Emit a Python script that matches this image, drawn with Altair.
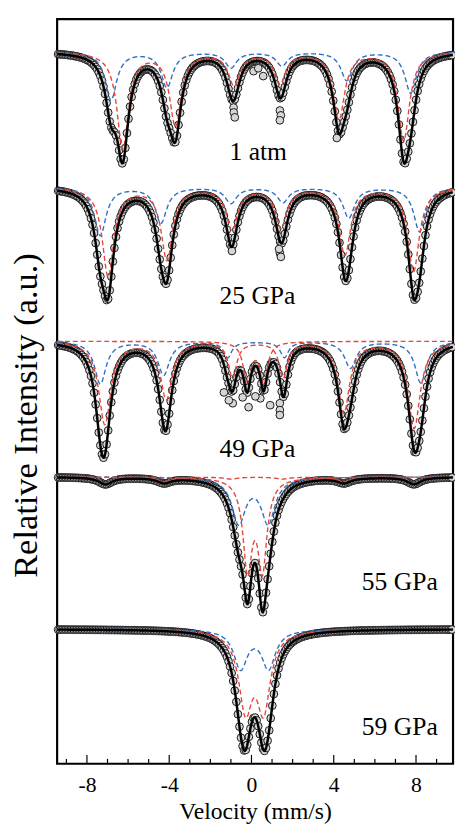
import numpy as np
import pandas as pd
import altair as alt

# ---------------- data ----------------
spectrum_labels = ["1 atm", "25 GPa", "49 GPa", "55 GPa", "59 GPa"]
baseline = [7.25, 5.87, 4.30, 2.92, 1.37]          # stacked offsets (a.u.)

# Lorentzian sub-spectra: line centres (mm/s), depths (a.u.), half widths (mm/s)
s1_red_pos = [-6.26, -3.70, -0.84, 1.38, 4.25, 7.40]
s1_red_depth = [0.98, 0.74, 0.33, 0.31, 0.68, 0.90]
s1_red_hw = [0.34, 0.34, 0.34, 0.34, 0.34, 0.34]
s1_blue_pos = [-6.83, -4.11, -1.00, 1.48, 4.63, 7.74]
s1_blue_depth = [0.49, 0.36, 0.16, 0.14, 0.29, 0.42]
s1_blue_hw = [0.34, 0.34, 0.34, 0.34, 0.34, 0.34]

s2_red_pos = [-6.97, -4.11, -0.95, 1.43, 4.54, 7.88]
s2_red_depth = [0.90, 0.73, 0.42, 0.40, 0.68, 0.85]
s2_red_hw = [0.34, 0.34, 0.34, 0.34, 0.34, 0.34]
s2_blue_pos = [-7.35, -4.40, -1.00, 1.53, 4.73, 8.17]
s2_blue_depth = [0.49, 0.36, 0.16, 0.15, 0.31, 0.45]
s2_blue_hw = [0.34, 0.34, 0.34, 0.34, 0.34, 0.34]

s3_red_pos = [-7.13, -4.14, -0.92, 1.54, 4.49, 7.91]
s3_red_depth = [0.84, 0.58, 0.36, 0.36, 0.72, 0.88]
s3_red_hw = [0.36, 0.34, 0.24, 0.24, 0.34, 0.36]
s3_blue_pos = [-7.35, -4.27, -1.16, 1.60, 4.81, 8.23]
s3_blue_depth = [0.43, 0.34, 0.16, 0.16, 0.27, 0.42]
s3_blue_hw = [0.34, 0.34, 0.24, 0.24, 0.34, 0.34]
s3_dbl_pos = [-0.21, 0.59]
s3_dbl_depth = [0.42, 0.42]
s3_dbl_hw = [0.22, 0.22]

s4_red_pos = [-7.10, -4.25, -1.00, 1.50, 4.50, 7.90]
s4_red_depth = [0.07, 0.05, 0.02, 0.02, 0.05, 0.07]
s4_red_hw = [0.40, 0.40, 0.40, 0.40, 0.40, 0.40]
s4_dbl_red_pos = [-0.19, 0.53]
s4_dbl_red_depth = [0.90, 0.90]
s4_dbl_red_hw = [0.27, 0.27]
s4_dbl_blue_pos = [-0.62, 0.81]
s4_dbl_blue_depth = [0.46, 0.46]
s4_dbl_blue_hw = [0.40, 0.40]

s5_dbl_red_pos = [-0.29, 0.59]
s5_dbl_red_depth = [0.77, 0.77]
s5_dbl_red_hw = [0.40, 0.40]
s5_dbl_blue_pos = [-0.53, 0.83]
s5_dbl_blue_depth = [0.39, 0.39]
s5_dbl_blue_hw = [0.40, 0.40]

# (spectrum, colour, centres, depths, half widths)
components = [
    (0, "red", s1_red_pos, s1_red_depth, s1_red_hw),
    (0, "blue", s1_blue_pos, s1_blue_depth, s1_blue_hw),
    (1, "red", s2_red_pos, s2_red_depth, s2_red_hw),
    (1, "blue", s2_blue_pos, s2_blue_depth, s2_blue_hw),
    (2, "red", s3_red_pos, s3_red_depth, s3_red_hw),
    (2, "blue", s3_blue_pos, s3_blue_depth, s3_blue_hw),
    (2, "red", s3_dbl_pos, s3_dbl_depth, s3_dbl_hw),
    (3, "red", s4_red_pos, s4_red_depth, s4_red_hw),
    (3, "red", s4_dbl_red_pos, s4_dbl_red_depth, s4_dbl_red_hw),
    (3, "blue", s4_dbl_blue_pos, s4_dbl_blue_depth, s4_dbl_blue_hw),
    (4, "red", s5_dbl_red_pos, s5_dbl_red_depth, s5_dbl_red_hw),
    (4, "blue", s5_dbl_blue_pos, s5_dbl_blue_depth, s5_dbl_blue_hw),
]

# individual data points that fall visibly off the fitted curve
extra_spec = [0, 0, 0, 0, 0, 0, 0, 0, 0, 0, 1, 1, 1, 1,
              2, 2, 2, 2, 2, 2, 2, 2, 2, 2, 2]
extra_v = [-0.87, -0.86, -0.81, 1.38, 1.43, 1.38, 0.10, 0.57, 0.33, 4.15,
           -0.95, 1.38, 1.43, 1.34,
           -1.34, -0.91, -0.43, -0.14, 0.43, 1.38, 1.38, 1.38, -1.10, 0.19, 0.91]
extra_y = [6.68, 6.63, 6.58, 6.65, 6.60, 6.55, 7.05, 7.00, 7.08, 6.37,
           5.22, 5.20, 5.16, 5.24,
           3.78, 3.67, 3.73, 3.63, 3.72, 3.67, 3.60, 3.55, 3.70, 3.74, 3.65]

major_ticks = [-8, -4, 0, 4, 8]
minor_ticks = [-9, -7, -6, -5, -3, -2, -1, 1, 2, 3, 5, 6, 7, 9]

label_v = [0.33, 0.29, 0.29, 7.21, 7.21]
label_y = [6.15, 4.68, 3.12, 1.77, 0.29]

# ---------------- build tables ----------------
X_MIN, X_MAX = -9.45, 9.80
fine_v = np.round(np.arange(X_MIN, X_MAX + 1e-9, 0.02), 3)
chan_v = np.round(np.arange(-9.40, 9.80, 0.076), 3)


def lor(v, pos, depth, hw):
    out = np.zeros_like(v, dtype=float)
    for c, d, g in zip(pos, depth, hw):
        out += d * g * g / ((v - c) ** 2 + g * g)
    return out


def fit_curve(s, v):
    tot = np.zeros_like(v, dtype=float)
    for (si, col, pos, dep, hw) in components:
        if si == s:
            tot += lor(v, pos, dep, hw)
    return baseline[s] - tot


comp_rows = []
for k, (si, col, pos, dep, hw) in enumerate(components):
    yy = baseline[si] - lor(fine_v, pos, dep, hw)
    comp_rows.append(pd.DataFrame({"v": fine_v, "y": yy, "comp": k, "col": col}))
comp_df = pd.concat(comp_rows, ignore_index=True)

fit_rows, pt_rows = [], []
for s in range(5):
    fit_rows.append(pd.DataFrame({"v": fine_v, "y": fit_curve(s, fine_v), "spec": s}))
    pt_rows.append(pd.DataFrame({"v": chan_v, "y": fit_curve(s, chan_v), "spec": s}))
fit_df = pd.concat(fit_rows, ignore_index=True)
pts_df = pd.concat(pt_rows + [pd.DataFrame({"v": extra_v, "y": extra_y, "spec": extra_spec})],
                   ignore_index=True)

tick_df = pd.DataFrame({
    "v": major_ticks + minor_ticks,
    "y0": [0.0] * (len(major_ticks) + len(minor_ticks)),
    "y1": [0.09] * len(major_ticks) + [0.05] * len(minor_ticks),
})
lab_df = pd.DataFrame({"v": label_v, "y": label_y, "text": spectrum_labels})

# ---------------- encodings ----------------
FONT = "Liberation Serif"
xscale = alt.Scale(domain=[X_MIN, X_MAX], nice=False, zero=False)
yscale = alt.Scale(domain=[0, 7.58], nice=False, zero=False)
xaxis = alt.Axis(title="Velocity (mm/s)", values=major_ticks, labelExpr="'' + datum.value",
                 ticks=False, domain=False, grid=False, tickSize=0,
                 labelFont=FONT, labelFontSize=22, labelColor="black", labelPadding=11,
                 titleFont=FONT, titleFontSize=24, titleFontWeight="normal",
                 titleColor="black", titlePadding=5)
yaxis = alt.Axis(title="Relative Intensity (a.u.)", labels=False, ticks=False, tickSize=0,
                 domain=False, grid=False, titleFont=FONT, titleFontSize=35,
                 titleFontWeight="normal", titleColor="black", titlePadding=14,
                 titleY=403)


def X(field="v"):
    return alt.X(f"{field}:Q", scale=xscale, axis=xaxis)


def Y(field="y"):
    return alt.Y(f"{field}:Q", scale=yscale, axis=yaxis)


points = alt.Chart(pts_df).mark_point(
    shape="circle", filled=True, fill="#d6d6d6", stroke="#1a1a1a",
    strokeWidth=1.0, size=62, opacity=1
).encode(x=X(), y=Y())

blue = alt.Chart(comp_df[comp_df.col == "blue"]).mark_line(
    color="#2f6fc4", strokeDash=[5, 3], strokeWidth=1.4
).encode(x=X(), y=Y(), detail="comp:N")

red = alt.Chart(comp_df[comp_df.col == "red"]).mark_line(
    color="#e8453a", strokeDash=[5, 3], strokeWidth=1.4
).encode(x=X(), y=Y(), detail="comp:N")

fit = alt.Chart(fit_df).mark_line(color="black", strokeWidth=2.5).encode(
    x=X(), y=Y(), detail="spec:N")

ticks = alt.Chart(tick_df).mark_rule(color="black", strokeWidth=1.2).encode(
    x=X(), y=Y("y0"), y2="y1:Q")

labels = alt.Chart(lab_df).mark_text(
    font=FONT, fontSize=26, color="black", align="center", baseline="alphabetic"
).encode(x=X(), y=Y(), text="text:N")

chart = alt.layer(points, blue, red, fit, ticks, labels).properties(
    width=403, height=758,
    autosize=alt.AutoSizeParams(type="none"),
    padding={"left": 50, "top": 4, "right": 2, "bottom": 56},
).configure_view(stroke="black", strokeWidth=2.2)

chart.save("out.html", embed_options={"renderer": "svg", "actions": False})
